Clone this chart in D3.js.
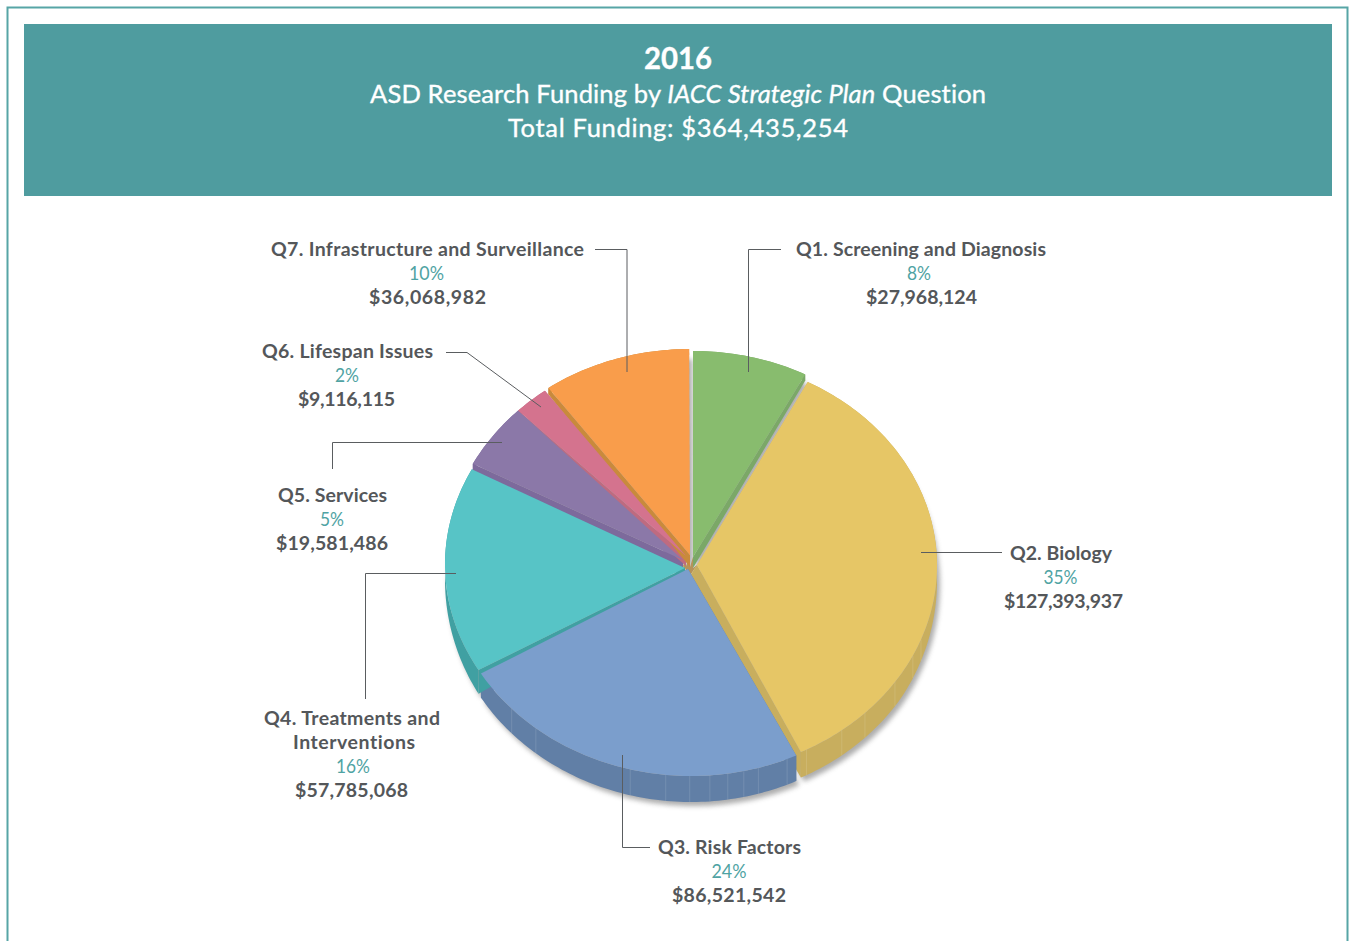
<!DOCTYPE html>
<html>
<head>
<meta charset="utf-8">
<script src="https://cdn.jsdelivr.net/npm/d3@7"></script>
<style>
html,body{margin:0;padding:0;background:#fff;overflow:hidden}
svg{display:block}
text{font-family:Lato,"Open Sans",sans-serif;font-variant-ligatures:none}
</style>
</head>
<body>
<svg id="chart" width="1349" height="941"></svg>
<script>
// ---- data ----
const categories = ["Q1. Screening and Diagnosis","Q2. Biology","Q3. Risk Factors","Q4. Treatments and Interventions","Q5. Services","Q6. Lifespan Issues","Q7. Infrastructure and Surveillance"];
const funding = [27968124,127393937,86521542,57785068,19581486,9116115,36068982];
const percents = ["8%","35%","24%","16%","5%","2%","10%"];
const amounts = ["$27,968,124","$127,393,937","$86,521,542","$57,785,068","$19,581,486","$9,116,115","$36,068,982"];
const titleYear = "2016";
const titleTotal = "Total Funding: $364,435,254";
// seams visible on the front wall, degrees clockwise from the top
const seamsQ2 = [110.8,115.6,124,135,142.2,152];
const seamsQ3 = [157,164.1,167.6,171.4,175.6,180.3,185.9,194.3,219.1,226.8];

// ---- styles / layout ----
const topColors  = ["#88BC6E","#E6C666","#7B9ECC","#57C4C6","#8B78A8","#D4738E","#F99D4B"];
const wallColors = ["#7BA867","#C8AE5E","#617FA6","#40A0A2","#7D6A9C","#BE6B80","#C98A3C"];
const cx = 691, cy = 562.5, rx = 246, ry = 213.5;
// per-slice fit of the perspective: shift, ry change, angle nudges, apex, lower apex
const fit = [
 {dx:2, dy:1, dry:-1,a0:0,   a1:-.5, ax:693,ay:557,bx:693,by:568},
 {dx:0, dy:3, dry:-5,a0:.7,  a1:0,   ax:697,ay:565,bx:686,by:582},
 {dx:0, dy:0, dry:0, a0:1.2, a1:-.3, ax:688,ay:569,bx:688,by:578},
 {dx:0, dy:2, dry:-4,a0:.8,  a1:1,   ax:685,ay:568,bx:685,by:577},
 {dx:0, dy:0, dry:0, a0:1.5, a1:0,   ax:683,ay:560,bx:683,by:569},
 {dx:0, dy:0, dry:0, a0:0,   a1:-.8, ax:686,ay:556,bx:686,by:566},
 {dx:-1,dy:0, dry:0, a0:.5,  a1:-.2, ax:690,ay:555,bx:690,by:567}
];
const labelLayout = [
 {x:921, y:256, leader:[[781,249.5],[748.5,249.5],[748.5,372]]},
 {x:1063,y:560, leader:[[921,552.5],[1002,552.5]]},
 {x:729, y:854, leader:[[622.5,755],[622.5,847.5],[650,847.5]]},
 {x:352, y:725, leader:[[365.5,699],[365.5,573.5],[456,573.5]]},
 {x:332, y:502, leader:[[332.5,469],[332.5,442.5],[502,442.5]]},
 {x:347, y:358, leader:[[446,352.5],[467,352.5],[541,407]]},
 {x:427, y:256, leader:[[595,249.5],[627,249.5],[627,372]]}
];
const labelLines = [[categories[0]],[categories[1]],[categories[2]],["Q4. Treatments and","Interventions"],[categories[4]],[categories[5]],[categories[6]]];
// text block widths measured on the reference, with horizontal centres
const nameFit = [[[921,250]],[[1061,102]],[[729.5,143]],[[352,176],[354,122]],[[332.5,109]],[[347.5,171]],[[427.5,313]]];
const pctFit = [[919,24],[1060.5,34],[729,35],[353,34],[332,24],[347,24],[426.5,35]];
const amtFit = [[921.5,111],[1063.5,119],[729,114],[351.5,113],[332,112],[346.5,97],[427.5,117]];

const svg = d3.select("#chart");
const defs = svg.append("defs");
defs.append("filter").attr("id","soft").attr("x","-10%").attr("y","-10%").attr("width","120%").attr("height","120%")
  .append("feGaussianBlur").attr("stdDeviation",2.6);

// frame and banner
svg.append("path").attr("d","M7.5,941V7.5H1347.5V941").attr("fill","none").attr("stroke","#57A5A6").attr("stroke-width",2);
svg.append("rect").attr("x",24).attr("y",24).attr("width",1308).attr("height",172).attr("fill","#4F9C9F");
const tc = svg.append("g").attr("fill","#fff").attr("stroke","#fff").attr("stroke-width",.35).attr("text-anchor","middle");
tc.append("text").attr("x",678).attr("y",69).attr("font-size",31).attr("font-weight",700).attr("textLength",68).attr("lengthAdjust","spacingAndGlyphs").text(titleYear);
const t2 = tc.append("text").attr("x",678).attr("y",103).attr("font-size",25.5).attr("textLength",616).attr("lengthAdjust","spacing");
t2.append("tspan").text("ASD Research Funding by ");
t2.append("tspan").attr("font-style","italic").text("IACC Strategic Plan");
t2.append("tspan").text(" Question");
tc.append("text").attr("x",678).attr("y",137).attr("font-size",25.5).attr("textLength",340).attr("lengthAdjust","spacing").text(titleTotal);

// pie
const pie = d3.pie().sort(null).startAngle(0).endAngle(2*Math.PI);
const arcs = pie(funding);
const rad = Math.PI/180;
const depth = d3.scaleLinear().domain([1,.44,-.516,-1]).range([6,8,24,26]);
const topPt = (a,f)=>[cx+f.dx+rx*Math.sin(a), cy+f.dy-(ry+f.dry)*Math.cos(a)];
const botPt = (a,f)=>{const p=topPt(a,f);return [p[0],p[1]+depth(Math.cos(a))];};
const line = d3.line();

const geo = arcs.map((d,i)=>{
  const f=fit[i];
  const a0=d.startAngle+f.a0*rad, a1=d.endAngle+f.a1*rad;
  const n=Math.ceil((a1-a0)/rad);
  const as=d3.range(n+1).map(k=>a0+(a1-a0)*k/n);
  return {i,f,a0,a1,as,
    top:as.map(a=>topPt(a,f)),
    bot:as.map(a=>botPt(a,f)),
    apex:[f.ax,f.ay],
    apexB:[f.bx,f.by]};
});

// shadow
svg.append("g").attr("filter","url(#soft)").attr("opacity",.55)
  .attr("transform","translate(3,4)")
  .selectAll("path").data(geo).join("path")
  .attr("fill","#6b6b6b")
  .attr("d",g=>line([g.apexB,...g.bot])+"Z");

// filler behind the point where the wedges meet
svg.append("path").attr("fill","#B5935A")
  .attr("d",line(geo.flatMap(g=>[g.apex,g.apexB]))+"Z");

// walls
const walls = svg.append("g");
geo.forEach(g=>{
  walls.append("path").attr("fill",wallColors[g.i])
    .attr("d",line([g.apex,g.top[0],g.bot[0],g.apexB])+"Z");
  walls.append("path").attr("fill",wallColors[g.i])
    .attr("d",line([g.apex,g.top[g.top.length-1],g.bot[g.bot.length-1],g.apexB])+"Z");
  walls.append("path").attr("fill",wallColors[g.i])
    .attr("d",line([...g.top,...g.bot.slice().reverse()])+"Z");
});
// seams
[[seamsQ2,1],[seamsQ3,2]].forEach(([list,idx])=>{
  walls.selectAll(null).data(list).join("path")
    .attr("stroke","#fff").attr("stroke-opacity",.12).attr("stroke-width",1).attr("fill","none")
    .attr("d",deg=>line([topPt(deg*rad,fit[idx]),botPt(deg*rad,fit[idx])]));
});

// top faces
svg.append("g").selectAll("path").data(geo).join("path")
  .attr("fill",g=>topColors[g.i])
  .attr("d",g=>line([g.apex,...g.top])+"Z");

// leaders
svg.append("g").selectAll("path").data(labelLayout).join("path")
  .attr("fill","none").attr("stroke","#5A5D60").attr("stroke-width",1)
  .attr("d",d=>line(d.leader));

// labels
const lab = svg.append("g").attr("text-anchor","middle").attr("font-size",20).selectAll("g").data(categories).join("g");
lab.each(function(_,i){
  const g=d3.select(this), L=labelLayout[i];
  let y=L.y;
  labelLines[i].forEach((s,j)=>{
    const nf=nameFit[i][j];
    g.append("text").attr("x",nf[0]).attr("y",y).attr("fill","#54575A").attr("font-size",19.5).attr("font-weight",700)
      .attr("textLength",nf[1]).attr("lengthAdjust","spacing").text(s);
    y+=24;
  });
  g.append("text").attr("x",pctFit[i][0]).attr("y",y).attr("fill","#4FA3A3").attr("font-size",19).attr("font-weight",400)
    .attr("textLength",pctFit[i][1]).attr("lengthAdjust","spacingAndGlyphs").text(percents[i]);
  y+=24;
  g.append("text").attr("x",amtFit[i][0]).attr("y",y).attr("fill","#54575A").attr("font-size",19.5).attr("font-weight",700)
    .attr("textLength",amtFit[i][1]).attr("lengthAdjust","spacing").text(amounts[i]);
});
</script>
</body>
</html>
